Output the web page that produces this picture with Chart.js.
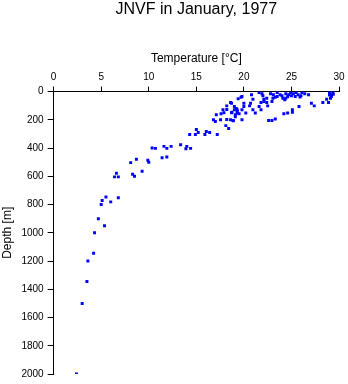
<!DOCTYPE html>
<html>
<head>
<meta charset="utf-8">
<script src="https://cdn.jsdelivr.net/npm/chart.js@4"></script>
<style>
  html, body { margin: 0; padding: 0; background: #fff; }
  #wrap { width: 348px; height: 384px; }
</style>
</head>
<body>
<div id="wrap"><canvas id="out" width="348" height="384"></canvas></div>
<script>
const chartTitle = "JNVF in January, 1977";
const tempTicks = [0, 5, 10, 15, 20, 25, 30];
const depthTicks = [0, 200, 400, 600, 800, 1000, 1200, 1400, 1600, 1800, 2000];

// temperature [°C] and depth [m] of each sample
const temperature = [
  2.4, 3.0, 3.5, 3.6, 4.2, 4.3, 4.7, 5.35, 5.0, 5.1, 5.5, 6.0, 6.8,
  6.6, 6.4, 6.8, 8.3, 8.5, 9.3, 8.1, 8.7, 9.9, 10.0, 11.4, 11.9,
  10.35, 10.7, 11.6, 11.9, 12.35, 13.35, 13.9, 14.0, 14.4,
  14.3, 14.9, 15.0, 15.2, 15.9, 16.05, 16.4, 17.2, 18.1, 18.4, 17.0,
  16.8, 17.55, 18.2, 18.6, 18.9, 17.1, 17.6, 19.1, 19.1, 17.8, 18.2,
  17.9, 18.7, 19.0, 19.3, 19.5, 18.2, 18.6, 19.0, 19.2, 19.4, 18.7,
  19.8, 20.8, 21.6, 21.9, 20.95, 20.0, 20.7, 20.0, 20.6, 19.3, 19.8,
  18.75, 19.3, 20.2, 21.2, 18.85, 19.8, 20.95, 21.6, 21.8, 21.8, 22.1,
  22.4, 22.5, 22.1, 22.4, 22.95, 23.05, 22.8, 23.1, 23.5, 23.5, 23.8,
  24.1, 24.4, 24.4, 24.7, 24.9, 25.2, 25.5, 25.7, 26.1, 26.4, 26.8,
  22.6, 22.95, 23.3, 24.2, 24.6, 25.1, 25.1, 25.8, 27.1, 27.4, 28.3,
  28.9, 28.7, 29.1, 29.2, 29.0, 29.35, 29.2, 24.3, 19.7,
  25.0, 25.4, 26.0, 24.0, 23.3, 22.0, 24.6, 25.9, 29.4, 29.0
];
const depth = [
  2000, 1500, 1345, 1200, 1145, 1000, 900, 950, 800, 772, 746, 781, 751,
  578, 604, 604, 585, 599, 564, 503, 479, 486, 500, 468, 463,
  400, 402, 388, 402, 388, 377, 405, 388, 402,
  304, 304, 269, 290, 304, 283, 290, 304, 241, 262, 211,
  199, 199, 197, 199, 206, 164, 157, 178, 164, 129, 126,
  150, 150, 129, 143, 157, 101, 77, 105, 119, 51, 82,
  35, 23, 7, 16, 54, 82, 82, 105, 101, 129, 129,
  147, 152, 152, 152, 204, 199, 129, 105, 129, 77, 70,
  77, 101, 54, 47, 70, 47, 16, 23, 35, 7, 23,
  47, 47, 16, 23, 7, 16, 7, 23, 7, 16, 23,
  204, 204, 194, 157, 152, 129, 147, 105, 82, 101, 77,
  77, 54, 47, 23, 7, 7, 35, 58, 40,
  30, 35, 30, 30, 40, 30, 36, 38, 18, 24
];

const points = temperature.map((t, i) => ({ x: t, y: depth[i] }));
const fontFamily = "'Liberation Sans', Arial, Helvetica, sans-serif";

const chartConfig = {
  type: "scatter",
  data: {
    datasets: [{
      data: points,
      backgroundColor: "#0000ff",
      borderWidth: 0,
      pointStyle: "rect",
      pointRadius: 2.1,
      pointHoverRadius: 2.1
    }]
  },
  options: {
    responsive: false,
    animation: false,
    layout: { padding: { left: 0, right: 9, top: 0, bottom: 0 } },
    plugins: {
      legend: { display: false },
      tooltip: { enabled: false },
      title: {
        display: true,
        fullSize: false,
        text: chartTitle,
        color: "#000",
        font: { family: fontFamily, size: 16, weight: "normal", lineHeight: 1.2 },
        padding: { top: 0, bottom: 28 }
      }
    },
    scales: {
      x: {
        type: "linear",
        position: "top",
        min: 0,
        max: 30,
        afterBuildTicks: axis => { axis.ticks = tempTicks.map(v => ({ value: v })); },
        grid: { drawOnChartArea: false, drawTicks: true, tickLength: 5, color: "#000" },
        border: { display: true, color: "#000", width: 1 },
        ticks: { color: "#000", padding: 3, maxRotation: 0, font: { family: fontFamily, size: 10 },
                 callback: v => String(v) },
        title: {
          display: true,
          text: "Temperature [°C]",
          color: "#000",
          font: { family: fontFamily, size: 12 },
          padding: { top: 4, bottom: 3 }
        }
      },
      y: {
        type: "linear",
        reverse: true,
        min: 0,
        max: 2000,
        afterBuildTicks: axis => { axis.ticks = depthTicks.map(v => ({ value: v })); },
        grid: { drawOnChartArea: false, drawTicks: true, tickLength: 6, color: "#000" },
        border: { display: true, color: "#000", width: 1 },
        ticks: { color: "#000", padding: 4, font: { family: fontFamily, size: 10 },
                 callback: v => String(v) },
        title: {
          display: true,
          text: "Depth [m]",
          color: "#000",
          font: { family: fontFamily, size: 12 },
          padding: { top: 0, bottom: 3 }
        }
      }
    }
  }
};

window.chart = new Chart(document.getElementById("out").getContext("2d"), chartConfig);
</script>
</body>
</html>
